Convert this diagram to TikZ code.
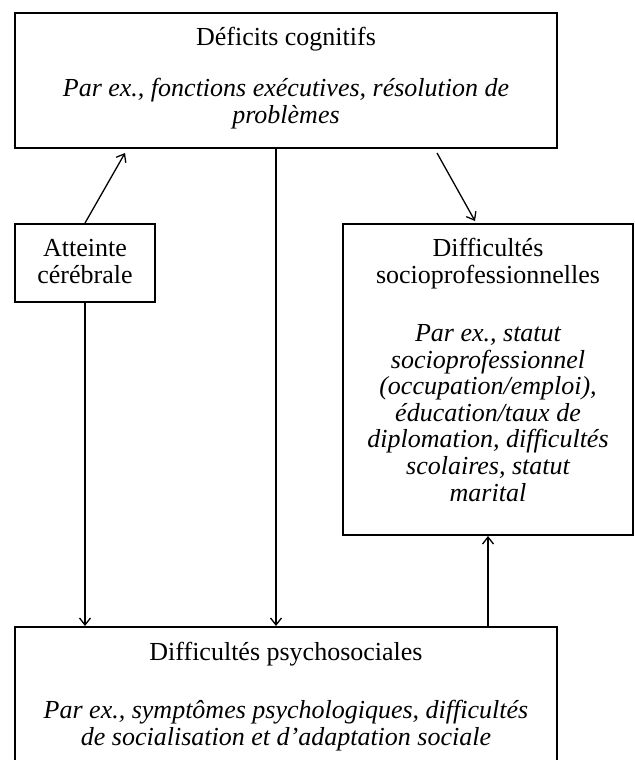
\documentclass[tikz,border=0pt]{standalone}
\usepackage{fontspec}
\setmainfont{Liberation Serif}
\usetikzlibrary{arrows.meta,positioning}
\tikzset{
  box/.style={draw, line width=1pt, inner sep=0pt},
  txt/.style={anchor=base, align=center, inner sep=0pt, font=\fontsize{13pt}{13.3pt}\selectfont},
  link/.style={line width=0.65pt, -{Straight Barb[length=3.5pt,width=5.5pt]}}
}
\begin{document}
\begin{tikzpicture}[x=1pt,y=1pt]
\useasboundingbox (0,0) rectangle (317,-380);

    \node[box, minimum width=271pt, minimum height=67.5pt] (1) at (143,-40.25) {};
    \node[box, minimum width=70pt, minimum height=39pt] (2) at (42.5,-131.5) {};
    \node[box, minimum width=145pt, minimum height=155.5pt] (3) at (244,-189.75) {};
    \node[box, minimum width=271pt, minimum height=82pt] (4) at (143,-354.5) {};

    \node[txt] (1a) at (143,-22.75) {Déficits cognitifs};
    \node[txt] (1b) at (143,-61.5) {\itshape Par ex., fonctions exécutives, résolution de\\\itshape problèmes};
    \node[txt] (2a) at (42.5,-141.7) {Atteinte\\cérébrale};
    \node[txt] (3a) at (244,-141.7) {Difficultés\\socioprofessionnelles};
    \node[txt] (3b) at (244,-250.5) {\itshape Par ex., statut\\\itshape socioprofessionnel\\\itshape (occupation/emploi),\\\itshape éducation/taux de\\\itshape diplomation, difficultés\\\itshape scolaires, statut\\\itshape marital};
    \node[txt] (4a) at (143,-330) {Difficultés psychosociales};
    \node[txt] (4b) at (143,-372.5) {\itshape Par ex., symptômes psychologiques, difficultés\\\itshape de socialisation et d’adaptation sociale};

\draw[link] (2.north) -- ([xshift=55.5pt,yshift=-2pt]1.south west);
\draw[link] ([xshift=-60.5pt,yshift=-2pt]1.south east) -- ([xshift=66.5pt,yshift=1pt]3.north west);
\draw[link] (2.south) -- (2.south |- 4.north);
\draw[link] ([xshift=-5pt]1.south) -- ([xshift=-5pt]4.north);
\draw[link] (4.north -| 3.south) -- (3.south);
\end{tikzpicture}
\end{document}
